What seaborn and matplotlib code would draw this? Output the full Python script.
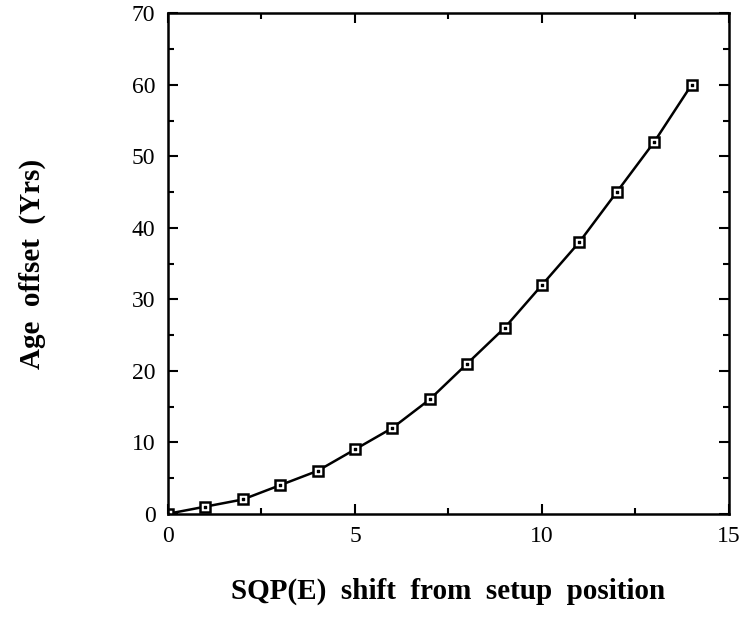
import numpy as np
import pandas as pd
import matplotlib
matplotlib.use("Agg")
import matplotlib.pyplot as plt
import seaborn as sns
from matplotlib.ticker import MultipleLocator

# values
sqp_shift = [0, 1, 2, 3, 4, 5, 6, 7, 8, 9, 10, 11, 12, 13, 14]
age_offset = [0, 1, 2, 4, 6, 9, 12, 16, 21, 26, 32, 38, 45, 52, 60]

x_ticks = [0, 5, 10, 15]
y_ticks = [0, 10, 20, 30, 40, 50, 60, 70]

sns.set_style("ticks")
plt.rcParams['font.family'] = ['Liberation Serif', 'DejaVu Serif']
plt.rcParams['text.color'] = 'black'
plt.rcParams['axes.labelcolor'] = 'black'

df = pd.DataFrame({"shift": sqp_shift, "offset": age_offset})

fig = plt.figure(figsize=(7.42, 6.22), dpi=100)
ax = fig.add_axes([0.2264, 0.174, 0.756, 0.8045])

sns.lineplot(data=df, x="shift", y="offset", ax=ax, color="black", linewidth=1.8,
             marker="s", markersize=7, markerfacecolor="white",
             markeredgecolor="black", markeredgewidth=1.8)
# small dot in the middle of each square
ax.scatter(df["shift"], df["offset"], s=3, color="black", marker="s", zorder=5)

ax.set_xlim(0, 15)
ax.set_ylim(0, 70)
ax.set_xticks(x_ticks)
ax.set_yticks(y_ticks)
ax.xaxis.set_minor_locator(MultipleLocator(2.5))
ax.yaxis.set_minor_locator(MultipleLocator(5))
ax.tick_params(which="both", direction="in", top=True, right=True, width=1.5,
               labelsize=17, colors="black", labelcolor="black")
ax.tick_params(which="major", length=7, pad=9)
ax.tick_params(which="minor", length=4)

for spine in ax.spines.values():
    spine.set_visible(True)
    spine.set_linewidth(1.8)
    spine.set_color("black")

ax.set_xlabel("SQP(E)  shift  from  setup  position", fontsize=21,
              fontweight="bold", labelpad=22, color="black")
ax.set_ylabel("Age  offset  (Yrs)", fontsize=21, fontweight="bold", labelpad=62,
              color="black")

fig.savefig("out.png", dpi=100)
plt.close(fig)
